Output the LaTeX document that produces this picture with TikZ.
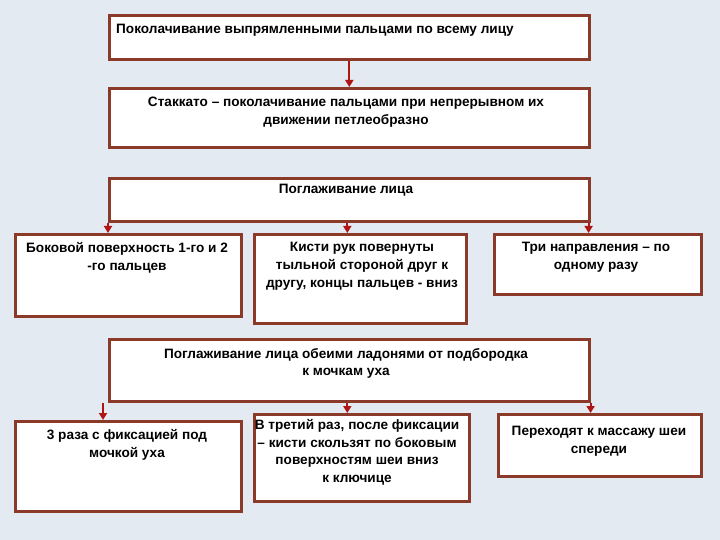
\documentclass[tikz,border=0pt]{standalone}
\usepackage{fontspec}
\setmainfont{Liberation Sans}
\usetikzlibrary{arrows.meta}
\definecolor{bord}{HTML}{8B3A2A}
\definecolor{arr}{HTML}{B01515}
\definecolor{bg}{HTML}{E3EAF1}
\begin{document}
\begin{tikzpicture}[x=1pt,y=-1pt,
 box/.style={draw=bord,line width=2.6pt,fill=white,anchor=north west,inner sep=0pt},
 txt/.style={anchor=north,align=center,font=\bfseries\fontsize{13.6}{17.8}\selectfont,inner sep=0pt},
 conn/.style={draw=arr,line width=2.2pt,-{Triangle[width=8pt,length=7pt]}}]
\fill[bg] (0,0) rectangle (720,540);
\useasboundingbox (0,0) rectangle (720,540);
\newcommand{\bx}[5]{\node[box,minimum width=#4-#2,minimum height=#5-#3] (#1) at (#2,#3) {};}
\bx{a}{108}{14}{588}{58}
\bx{b}{108}{87}{588}{146}
\bx{c}{108}{177}{588}{220}
\bx{l1}{14}{233}{240}{315}
\bx{m1}{253}{233}{465}{322}
\bx{r1}{493}{233}{700}{293}
\bx{d}{108}{338}{588}{400}
\bx{l2}{14}{420}{240}{510}
\bx{m2}{253}{413}{468}{500}
\bx{r2}{497}{413}{700}{475}
\node[txt,anchor=north west] (ta) at (116,24) {Поколачивание выпрямленными пальцами по всему лицу};
\node[txt] (tb) at (346,97) {Стаккато -- поколачивание пальцами при непрерывном их\\движении петлеобразно};
\node[txt] (tc) at (346,184) {Поглаживание лица};
\node[txt] (tl1) at (127,242) {Боковой поверхность 1-го и 2\\-го пальцев};
\node[txt] (tm1) at (362,242) {Кисти рук повернуты\\тыльной стороной друг к\\другу, концы пальцев - вниз};
\node[txt] (tr1) at (596,242) {Три направления -- по\\одному разу};
\node[txt] (td) at (346,348) {Поглаживание лица обеими ладонями от подбородка\\к мочкам уха};
\node[txt] (tl2) at (127,429) {3 раза с фиксацией под\\мочкой уха};
\node[txt] (tm2) at (357,419) {В третий раз, после фиксации\\-- кисти скользят по боковым\\поверхностям шеи вниз\\к ключице};
\node[txt] (tr2) at (599,426) {Переходят к массажу шеи\\спереди};
\draw[conn] (a.south) -- (b.north);
\draw[conn] (c.south west) -- (c.south west |- l1.north);
\draw[conn] ([xshift=-2pt]c.south) -- ([xshift=-2pt]c.south |- m1.north);
\draw[conn] ([xshift=-2pt]c.south east) -- ([xshift=-2pt]c.south east |- r1.north);
\draw[conn] ([xshift=-5pt]d.south west) -- ([xshift=-5pt]d.south west |- l2.north);
\draw[conn] ([xshift=-2pt]d.south) -- ([xshift=-2pt]d.south |- m2.north);
\draw[conn] (d.south east) -- (d.south east |- r2.north);
\end{tikzpicture}
\end{document}
